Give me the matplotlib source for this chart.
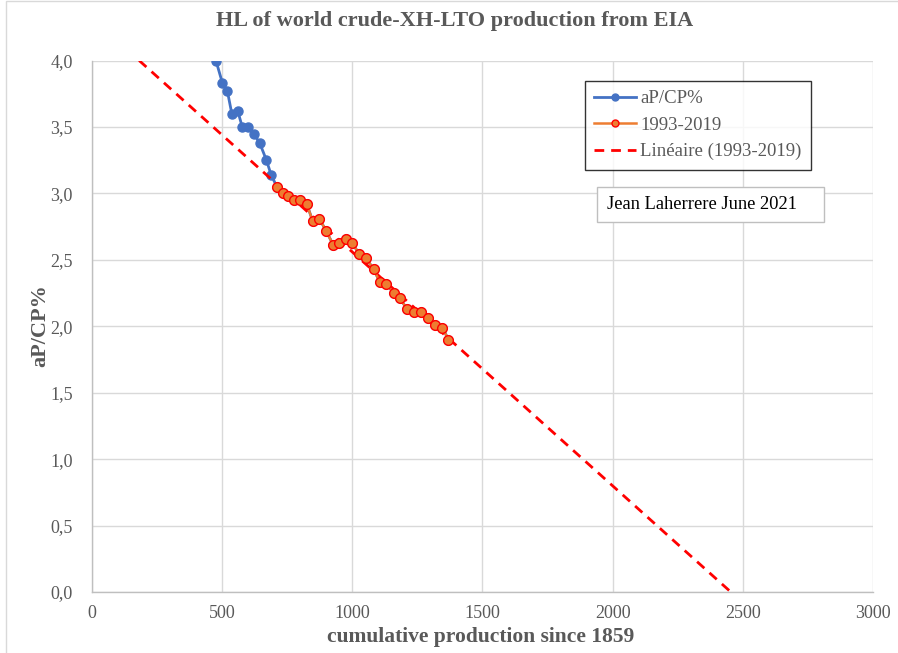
import numpy as np
import matplotlib
matplotlib.use("Agg")
import matplotlib.pyplot as plt
from matplotlib.patches import Rectangle
from matplotlib.ticker import FuncFormatter
from matplotlib.font_manager import FontProperties

# ---- data ----
cp_early = [476, 501, 520, 537, 560, 577, 600, 621, 644, 670, 688]
ap_early = [4.00, 3.83, 3.77, 3.60, 3.62, 3.50, 3.50, 3.45, 3.38, 3.25, 3.14]

cp_9319 = [710, 733, 754, 776, 800, 825, 848, 873, 899, 927, 950, 975, 999,
           1027, 1053, 1082, 1106, 1129, 1160, 1184, 1209, 1237, 1264, 1292,
           1318, 1346, 1369]
ap_9319 = [3.05, 3.00, 2.98, 2.95, 2.95, 2.92, 2.79, 2.81, 2.72, 2.61, 2.63,
           2.66, 2.63, 2.54, 2.51, 2.43, 2.33, 2.32, 2.25, 2.21, 2.13, 2.11,
           2.11, 2.06, 2.01, 1.99, 1.90]

x_ticks = [0, 500, 1000, 1500, 2000, 2500, 3000]
y_ticks = [0.0, 0.5, 1.0, 1.5, 2.0, 2.5, 3.0, 3.5, 4.0]

title = "HL of world crude-XH-LTO production from EIA"
xlabel = "cumulative production since 1859"
ylabel = "aP/CP%"
note = "Jean Laherrere June 2021"

GRAY = "#595959"
SERIF = ["Liberation Serif", "DejaVu Serif"]
plt.rcParams["font.family"] = SERIF
plt.rcParams["font.style"] = "normal"

def fp(size, bold=False):
    return FontProperties(family=SERIF, style="normal",
                          weight="bold" if bold else "normal", size=size)

fig = plt.figure(figsize=(8.98, 6.53), dpi=100)
W, H = 898, 653
ax = fig.add_axes([92 / W, 1 - 592 / H, (873 - 92) / W, (592 - 60.5) / H])

# chart border
fig.patches.append(Rectangle((6 / W, -0.1), 1.2, 1.1 - 1.5 / H, transform=fig.transFigure,
                             fill=False, edgecolor="#d9d9d9", linewidth=1.0))

ax.set_xlim(0, 3000)
ax.set_ylim(0, 4.0)
ax.set_xticks(x_ticks)
ax.set_yticks(y_ticks)
ax.yaxis.set_major_formatter(FuncFormatter(lambda v, p: f"{v:.1f}".replace(".", ",")))
ax.grid(True, color="#d9d9d9", linewidth=1.0)
ax.set_axisbelow(True)
for s in ["top", "right"]:
    ax.spines[s].set_visible(False)
for s in ["left", "bottom"]:
    ax.spines[s].set_color("#bfbfbf")
    ax.spines[s].set_linewidth(1.0)
ax.tick_params(length=0, labelcolor=GRAY)
ax.tick_params(axis="x", pad=9)
ax.tick_params(axis="y", pad=14)
for lab in ax.get_xticklabels() + ax.get_yticklabels():
    lab.set_fontproperties(fp(13))

# series
cp_all = cp_early + cp_9319
ap_all = ap_early + ap_9319
l1, = ax.plot(cp_all, ap_all, color="#4472C4", lw=2.0, marker="o", ms=6.5,
              markerfacecolor="#4472C4", markeredgecolor="#4472C4", zorder=3,
              label="aP/CP%")
l2, = ax.plot(cp_9319, ap_9319, color="#ED7D31", lw=1.8, marker="o", ms=7,
              markerfacecolor="#ED7D31", markeredgecolor="#FF0000", markeredgewidth=1.0,
              zorder=4, label="1993-2019")

# linear trend of 1993-2019
b, a = np.polyfit(cp_9319, ap_9319, 1)
x_top = (4.0 - a) / b
x_zero = -a / b
xs = np.array([x_top, x_zero])
l3, = ax.plot(xs, a + b * xs, color="#FF0000", lw=2.0, ls=(0, (3.5, 2.5)), zorder=3.5,
              label="Linéaire (1993-2019)")

# legend
leg = ax.legend(handles=[l1, l2, l3], loc="upper left",
                bbox_to_anchor=((585 - 92) / (873 - 92), 1 - (80.7 - 60.5) / (592 - 60.5)),
                frameon=True, fancybox=False, edgecolor="black", prop=fp(13.5),
                handlelength=2.2, handletextpad=0.25, borderpad=0.5, labelspacing=0.5,
                borderaxespad=0)
leg.get_frame().set_linewidth(1.0)
for t in leg.get_texts():
    t.set_color(GRAY)
for h in leg.legend_handles:
    h.set_markersize(5)

# note box
fig.patches.append(Rectangle((597 / W, 1 - 222 / H), (824 - 597) / W, 35 / H,
                             transform=fig.transFigure, facecolor="white",
                             edgecolor="#bfbfbf", lw=1.0, zorder=5))
fig.text(607 / W, 1 - 204.5 / H, note, fontproperties=fp(13.3), color="black",
         va="center", ha="left", zorder=6)

# titles
fig.text(455 / W, 1 - 21 / H, title, fontproperties=fp(16, True), color=GRAY,
         ha="center", va="center")
fig.text(481 / W, 1 - 637 / H, xlabel, fontproperties=fp(15.5, True), color=GRAY,
         ha="center", va="center")
fig.text(40 / W, 1 - 326 / H, ylabel, fontproperties=fp(16, True), color=GRAY,
         ha="center", va="center", rotation=90)

fig.savefig("out.png", dpi=100)
